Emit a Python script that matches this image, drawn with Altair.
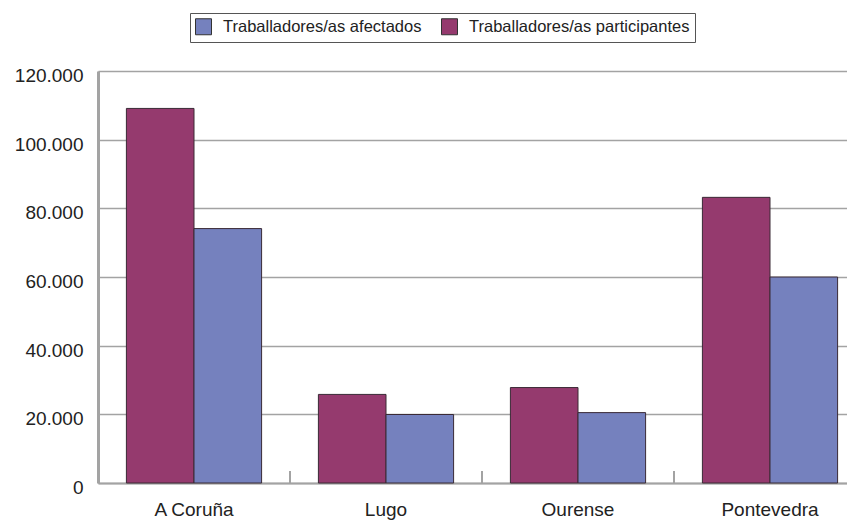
import altair as alt
import pandas as pd

provincias = ["A Coruña", "Lugo", "Ourense", "Pontevedra"]
afectados = [74100, 19950, 20500, 60000]
participantes = [109100, 25800, 27800, 83200]
serie_afectados = "Traballadores/as afectados"
serie_participantes = "Traballadores/as participantes"
y_ticks = [0, 20000, 40000, 60000, 80000, 100000, 120000]
limites = ["Lugo", "Ourense", "Pontevedra"]

rows = []
for p, a, t in zip(provincias, afectados, participantes):
    rows.append({"provincia": p, "serie": serie_participantes, "valor": t})
    rows.append({"provincia": p, "serie": serie_afectados, "valor": a})
df = pd.DataFrame(rows)
df_lim = pd.DataFrame({"provincia": limites})

FONT = "Liberation Sans"
W, H = 749, 412
BAND_RANGE = 768  # categories extend past the visible right edge, as in the reference

x_scale = alt.Scale(domain=provincias, paddingInner=0, paddingOuter=0,
                    range=[0, BAND_RANGE])

bars = alt.Chart(df).mark_bar(stroke="#3a2a35", strokeWidth=1).encode(
    x=alt.X("provincia:N", scale=x_scale, sort=provincias,
            axis=alt.Axis(title=None, labelAngle=0, ticks=False, tickSize=0,
                          labelPadding=17, labelFontSize=19, labelFont=FONT,
                          labelColor="#222222", domainColor="#a3a3a3",
                          domainWidth=2, grid=False)),
    xOffset=alt.XOffset("serie:N", sort=[serie_participantes, serie_afectados],
                        scale=alt.Scale(paddingInner=0, paddingOuter=0.42)),
    y=alt.Y("valor:Q", scale=alt.Scale(domain=[0, 120000], nice=False),
            axis=alt.Axis(title=None, values=y_ticks, ticks=False, tickSize=0,
                          labelPadding=15, labelFontSize=19, labelFont=FONT,
                          labelColor="#222222", labelOffset=4.5,
                          domainColor="#a3a3a3", domainWidth=3,
                          gridColor="#a3a3a3", gridWidth=1.5,
                          labelExpr="replace(format(datum.value, ','), /,/g, '.')")),
    color=alt.Color("serie:N",
                    scale=alt.Scale(domain=[serie_afectados, serie_participantes],
                                    range=["#7581be", "#953a6e"]),
                    legend=alt.Legend(title=None, orient="none", legendX=92, legendY=-58,
                                      direction="horizontal", symbolType="square",
                                      symbolSize=256, symbolStrokeColor="#333333",
                                      symbolStrokeWidth=1, labelFont=FONT,
                                      labelFontSize=16.5, labelColor="#222222",
                                      labelLimit=400, columnPadding=17, labelOffset=11,
                                      padding=5, strokeColor="#555555",
                                      fillColor="#ffffff")),
)

ticks = alt.Chart(df_lim).mark_rule(color="#a3a3a3", strokeWidth=2).encode(
    x=alt.X("provincia:N", scale=x_scale, sort=provincias, bandPosition=0),
    y=alt.value(H - 12),
    y2=alt.value(H),
)

chart = alt.layer(bars, ticks).properties(
    width=W, height=H,
    autosize=alt.AutoSizeParams(type="none"),
    padding={"left": 90, "top": 63, "right": 0, "bottom": 40},
).configure_view(fill="#f2edd6", stroke=None).configure(background="#ffffff")

chart.save("out.html", embed_options={"renderer": "svg", "actions": False})
